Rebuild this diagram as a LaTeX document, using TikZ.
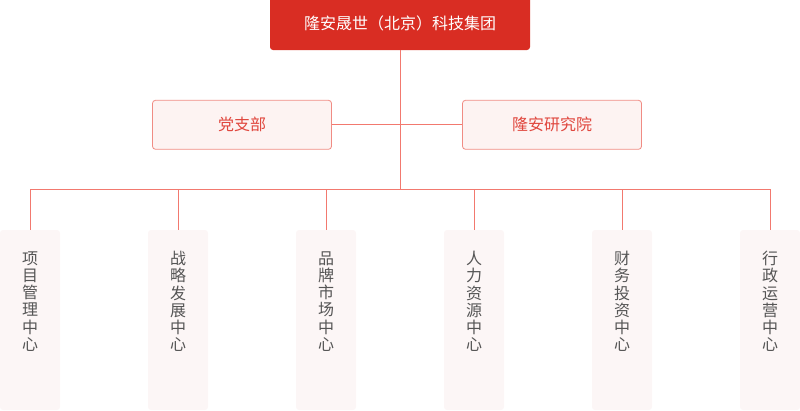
\documentclass[tikz,border=0pt]{standalone}
\usepackage{fontspec}
\setmainfont{Noto Sans CJK SC}
\definecolor{topred}{HTML}{D92D23}
\definecolor{linered}{HTML}{F2796F}
\definecolor{boxborder}{HTML}{F08C84}
\definecolor{boxfill}{HTML}{FDF3F2}
\definecolor{boxtext}{HTML}{E0463D}
\definecolor{colfill}{HTML}{FCF6F6}
\definecolor{coltext}{HTML}{555555}
\tikzset{
  topbox/.style={fill=topred, rounded corners=3pt, text=white, inner sep=0pt,
    minimum width=260pt, minimum height=54pt, font=\fontsize{16}{18}\selectfont},
  midbox/.style={draw=boxborder, fill=boxfill, rounded corners=3pt, text=boxtext,
    line width=0.8pt, inner sep=0pt, minimum width=179pt, minimum height=49pt,
    font=\fontsize{16}{18}\selectfont},
  colbox/.style={fill=colfill, rounded corners=3pt, inner sep=0pt,
    minimum width=60pt, minimum height=180pt},
  coltxt/.style={text=coltext, align=center, inner sep=0pt,
    font=\fontsize{16}{17.2}\selectfont},
  conn/.style={draw=linered, line width=0.9pt}
}
\begin{document}
\begin{tikzpicture}[x=1pt,y=-1pt]
\useasboundingbox (0,0) rectangle (800,410);
\clip (0,0) rectangle (800,410);
\node[topbox] (top) at (400,23) {隆安晟世（北京）科技集团};
\node[midbox] (party) at (242,124.8) {党支部};
\node[midbox] (inst) at (552,124.8) {隆安研究院};
\coordinate (hub) at (400,189);
\foreach \i/\x/\t in {1/30/项\\目\\管\\理\\中\\心,
                      2/178/战\\略\\发\\展\\中\\心,
                      3/326/品\\牌\\市\\场\\中\\心,
                      4/474/人\\力\\资\\源\\中\\心,
                      5/622/财\\务\\投\\资\\中\\心,
                      6/770/行\\政\\运\\营\\中\\心}{
  \node[colbox] (c\i) at (\x,320) {};
  \node[coltxt] (t\i) at (\x,301.5) {\t};
}
\draw[conn] (top.south) -- (hub);
\draw[conn] (party.east) -- (inst.west);
\foreach \i in {1,...,6}{
  \draw[conn] (c\i.north) |- (hub);
}
\end{tikzpicture}
\end{document}
